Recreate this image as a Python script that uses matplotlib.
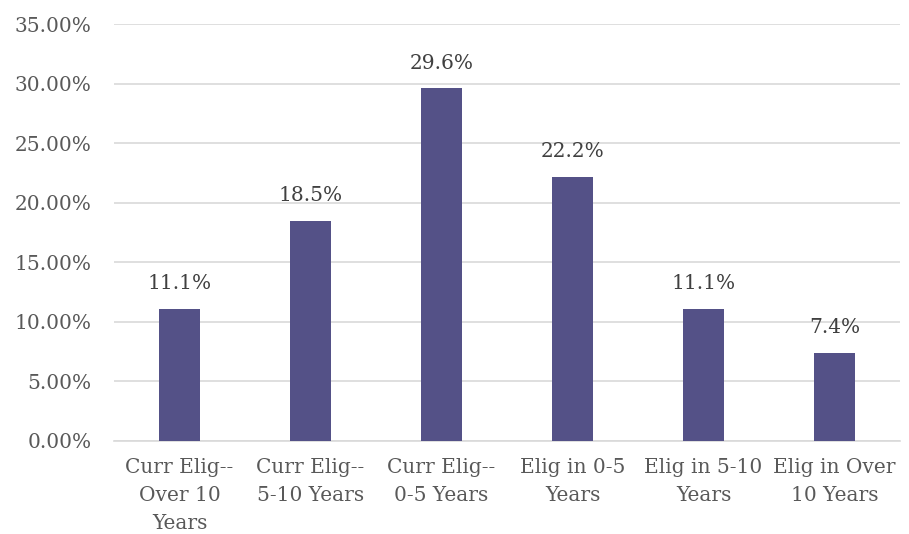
import matplotlib.pyplot as plt
from matplotlib.ticker import FuncFormatter

categories = ['Curr Elig--\nOver 10\nYears', 'Curr Elig--\n5-10 Years', 'Curr Elig--\n0-5 Years',
              'Elig in 0-5\nYears', 'Elig in 5-10\nYears', 'Elig in Over\n10 Years']
shares = [11.1, 18.5, 29.6, 22.2, 11.1, 7.4]
yticks = [0, 5, 10, 15, 20, 25, 30, 35]

text_color = '#595959'
plt.rcParams['font.family'] = ['DejaVu Serif']
fs = 14.5

fig = plt.figure(figsize=(9.09, 5.34), dpi=100)
ax = fig.add_axes([114 / 909, 93 / 534, 786 / 909, 417 / 534])

x = range(len(categories))
bars = ax.bar(x, shares, width=0.315, color='#545187', zorder=3)
for b, v in zip(bars, shares):
    ax.text(b.get_x() + b.get_width() / 2, v + 1.3, f'{v:.1f}%', ha='center', va='bottom',
            color='#404040', fontsize=fs)

ax.set_xlim(-0.5, len(categories) - 0.5)
ax.set_ylim(0, 35)
ax.set_yticks(yticks)
ax.yaxis.set_major_formatter(FuncFormatter(lambda v, p: f'{v:.2f}%'))
ax.set_xticks(list(x))
ax.set_xticklabels(categories, linespacing=1.62)
ax.grid(axis='y', color='#d9d9d9', linewidth=1.2, zorder=0)
for s in ['top', 'right', 'left']:
    ax.spines[s].set_visible(False)
ax.spines['bottom'].set_color('#d9d9d9')
ax.spines['bottom'].set_linewidth(1.2)
ax.tick_params(axis='both', length=0, colors=text_color, labelsize=fs)
ax.tick_params(axis='y', pad=16)
ax.tick_params(axis='x', pad=12)

fig.savefig('out.png', dpi=100)
